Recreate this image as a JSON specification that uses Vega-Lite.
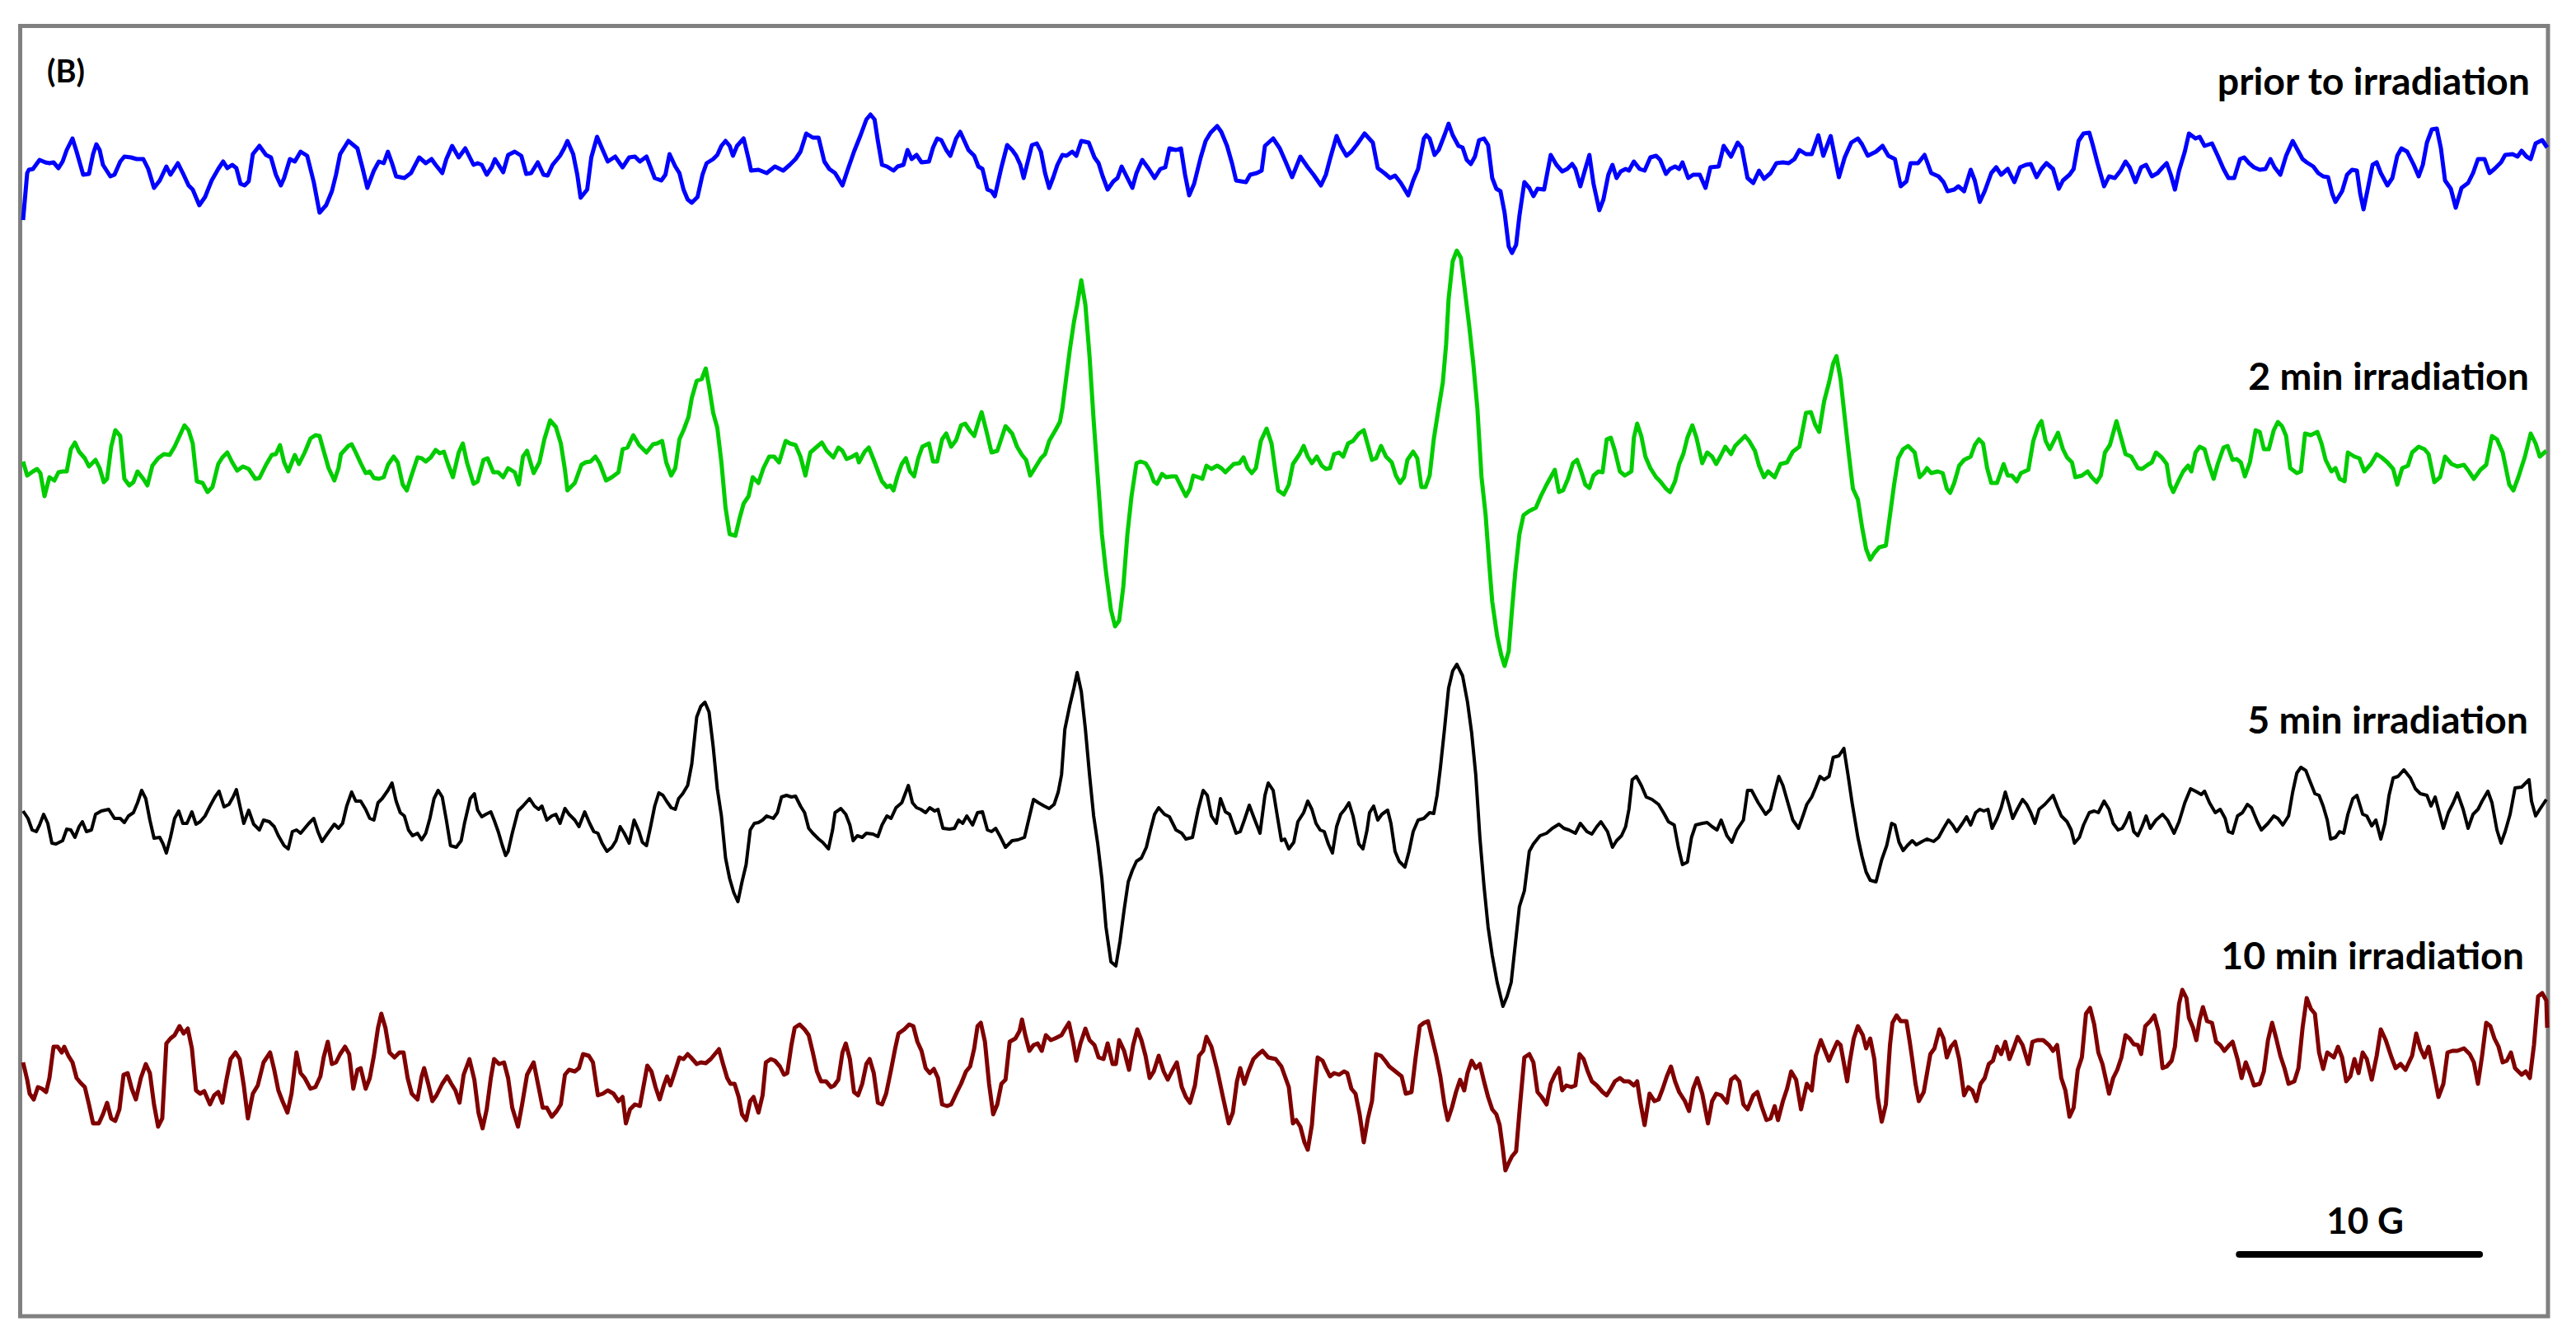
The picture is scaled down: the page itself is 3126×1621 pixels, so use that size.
{
"$schema": "https://vega.github.io/schema/vega-lite/v6.json",
"autosize": {"type": "fit", "contains": "padding"},
"width": 3126,
"height": 1621,
"padding": {"left": 24.5, "top": 31.5, "right": 32, "bottom": 24},
"background": "white",
"config": {"view": {"stroke": "#808080", "strokeWidth": 5}},
"datasets": {
"prior": [
{"x":28,"y":1333},{"x":33,"y":1390},{"x":35,"y":1394},{"x":40,"y":1395},{"x":48,"y":1406},{"x":55,"y":1403},{"x":60,"y":1402},{"x":65,"y":1403},{"x":71,"y":1396},{"x":76,"y":1404},{"x":81,"y":1418},{"x":88,"y":1432},{"x":93,"y":1416},{"x":101,"y":1388},{"x":108,"y":1389},{"x":113,"y":1413},{"x":117,"y":1425},{"x":121,"y":1418},{"x":125,"y":1400},{"x":134,"y":1386},{"x":139,"y":1388},{"x":146,"y":1404},{"x":151,"y":1410},{"x":159,"y":1409},{"x":166,"y":1407},{"x":174,"y":1407},{"x":180,"y":1395},{"x":187,"y":1372},{"x":194,"y":1381},{"x":202,"y":1398},{"x":207,"y":1388},{"x":216,"y":1402},{"x":222,"y":1390},{"x":229,"y":1375},{"x":234,"y":1370},{"x":242,"y":1351},{"x":249,"y":1361},{"x":257,"y":1381},{"x":265,"y":1395},{"x":271,"y":1404},{"x":276,"y":1396},{"x":282,"y":1400},{"x":287,"y":1396},{"x":292,"y":1377},{"x":297,"y":1375},{"x":302,"y":1380},{"x":307,"y":1413},{"x":315,"y":1423},{"x":323,"y":1412},{"x":329,"y":1409},{"x":335,"y":1388},{"x":341,"y":1375},{"x":345,"y":1384},{"x":352,"y":1407},{"x":358,"y":1404},{"x":365,"y":1416},{"x":373,"y":1411},{"x":381,"y":1379},{"x":388,"y":1342},{"x":396,"y":1351},{"x":403,"y":1368},{"x":408,"y":1388},{"x":413,"y":1413},{"x":423,"y":1429},{"x":434,"y":1420},{"x":440,"y":1397},{"x":446,"y":1372},{"x":454,"y":1393},{"x":460,"y":1404},{"x":466,"y":1402},{"x":471,"y":1416},{"x":476,"y":1402},{"x":481,"y":1386},{"x":491,"y":1384},{"x":499,"y":1390},{"x":509,"y":1409},{"x":517,"y":1402},{"x":524,"y":1407},{"x":529,"y":1400},{"x":537,"y":1390},{"x":542,"y":1407},{"x":549,"y":1423},{"x":557,"y":1409},{"x":565,"y":1420},{"x":575,"y":1400},{"x":580,"y":1402},{"x":585,"y":1400},{"x":591,"y":1388},{"x":597,"y":1397},{"x":601,"y":1407},{"x":611,"y":1391},{"x":617,"y":1412},{"x":625,"y":1416},{"x":633,"y":1411},{"x":639,"y":1389},{"x":645,"y":1390},{"x":653,"y":1403},{"x":660,"y":1388},{"x":665,"y":1387},{"x":671,"y":1400},{"x":680,"y":1411},{"x":685,"y":1420},{"x":689,"y":1429},{"x":696,"y":1413},{"x":701,"y":1388},{"x":705,"y":1360},{"x":713,"y":1370},{"x":718,"y":1409},{"x":725,"y":1434},{"x":731,"y":1420},{"x":738,"y":1404},{"x":747,"y":1410},{"x":756,"y":1397},{"x":764,"y":1409},{"x":771,"y":1410},{"x":777,"y":1404},{"x":785,"y":1410},{"x":790,"y":1397},{"x":795,"y":1384},{"x":803,"y":1381},{"x":808,"y":1388},{"x":813,"y":1413},{"x":820,"y":1398},{"x":825,"y":1390},{"x":830,"y":1370},{"x":835,"y":1358},{"x":840,"y":1354},{"x":847,"y":1361},{"x":853,"y":1388},{"x":858,"y":1402},{"x":866,"y":1407},{"x":871,"y":1412},{"x":876,"y":1423},{"x":881,"y":1429},{"x":886,"y":1423},{"x":890,"y":1411},{"x":895,"y":1423},{"x":903,"y":1432},{"x":909,"y":1407},{"x":912,"y":1393},{"x":921,"y":1394},{"x":931,"y":1390},{"x":941,"y":1398},{"x":951,"y":1393},{"x":959,"y":1400},{"x":966,"y":1407},{"x":972,"y":1416},{"x":979,"y":1438},{"x":987,"y":1433},{"x":994,"y":1433},{"x":1001,"y":1404},{"x":1007,"y":1395},{"x":1014,"y":1390},{"x":1023,"y":1375},{"x":1029,"y":1393},{"x":1037,"y":1416},{"x":1045,"y":1436},{"x":1052,"y":1455},{"x":1057,"y":1461},{"x":1062,"y":1455},{"x":1066,"y":1429},{"x":1071,"y":1400},{"x":1077,"y":1398},{"x":1085,"y":1393},{"x":1090,"y":1398},{"x":1097,"y":1400},{"x":1102,"y":1418},{"x":1107,"y":1407},{"x":1113,"y":1412},{"x":1119,"y":1403},{"x":1128,"y":1404},{"x":1133,"y":1421},{"x":1138,"y":1432},{"x":1143,"y":1430},{"x":1149,"y":1418},{"x":1154,"y":1411},{"x":1161,"y":1432},{"x":1166,"y":1440},{"x":1171,"y":1429},{"x":1176,"y":1418},{"x":1183,"y":1411},{"x":1188,"y":1398},{"x":1193,"y":1395},{"x":1199,"y":1370},{"x":1204,"y":1368},{"x":1208,"y":1362},{"x":1216,"y":1397},{"x":1223,"y":1424},{"x":1229,"y":1418},{"x":1234,"y":1411},{"x":1239,"y":1400},{"x":1243,"y":1384},{"x":1248,"y":1404},{"x":1253,"y":1424},{"x":1259,"y":1426},{"x":1264,"y":1416},{"x":1269,"y":1390},{"x":1274,"y":1372},{"x":1279,"y":1385},{"x":1284,"y":1400},{"x":1290,"y":1412},{"x":1295,"y":1411},{"x":1302,"y":1416},{"x":1307,"y":1411},{"x":1313,"y":1429},{"x":1322,"y":1427},{"x":1329,"y":1409},{"x":1334,"y":1402},{"x":1339,"y":1386},{"x":1345,"y":1370},{"x":1352,"y":1380},{"x":1357,"y":1384},{"x":1362,"y":1398},{"x":1367,"y":1388},{"x":1375,"y":1372},{"x":1380,"y":1390},{"x":1387,"y":1406},{"x":1395,"y":1395},{"x":1402,"y":1384},{"x":1409,"y":1395},{"x":1415,"y":1397},{"x":1420,"y":1420},{"x":1428,"y":1418},{"x":1434,"y":1420},{"x":1439,"y":1388},{"x":1444,"y":1363},{"x":1450,"y":1377},{"x":1458,"y":1409},{"x":1464,"y":1429},{"x":1470,"y":1439},{"x":1478,"y":1447},{"x":1483,"y":1440},{"x":1490,"y":1423},{"x":1496,"y":1402},{"x":1501,"y":1381},{"x":1507,"y":1380},{"x":1513,"y":1379},{"x":1518,"y":1388},{"x":1526,"y":1390},{"x":1532,"y":1393},{"x":1536,"y":1423},{"x":1546,"y":1432},{"x":1554,"y":1420},{"x":1561,"y":1404},{"x":1569,"y":1385},{"x":1579,"y":1410},{"x":1588,"y":1397},{"x":1595,"y":1388},{"x":1604,"y":1375},{"x":1610,"y":1388},{"x":1615,"y":1407},{"x":1623,"y":1435},{"x":1628,"y":1423},{"x":1635,"y":1411},{"x":1641,"y":1416},{"x":1648,"y":1425},{"x":1657,"y":1438},{"x":1667,"y":1427},{"x":1673,"y":1396},{"x":1681,"y":1390},{"x":1688,"y":1384},{"x":1694,"y":1387},{"x":1701,"y":1378},{"x":1710,"y":1363},{"x":1716,"y":1381},{"x":1722,"y":1395},{"x":1729,"y":1432},{"x":1732,"y":1436},{"x":1736,"y":1432},{"x":1742,"y":1412},{"x":1747,"y":1418},{"x":1754,"y":1436},{"x":1759,"y":1450},{"x":1764,"y":1436},{"x":1771,"y":1423},{"x":1776,"y":1421},{"x":1781,"y":1406},{"x":1786,"y":1401},{"x":1791,"y":1410},{"x":1796,"y":1430},{"x":1802,"y":1432},{"x":1807,"y":1424},{"x":1812,"y":1384},{"x":1817,"y":1371},{"x":1822,"y":1368},{"x":1827,"y":1342},{"x":1832,"y":1301},{"x":1836,"y":1293},{"x":1841,"y":1303},{"x":1845,"y":1338},{"x":1851,"y":1379},{"x":1857,"y":1372},{"x":1862,"y":1362},{"x":1867,"y":1371},{"x":1875,"y":1370},{"x":1883,"y":1412},{"x":1890,"y":1400},{"x":1897,"y":1392},{"x":1903,"y":1395},{"x":1909,"y":1401},{"x":1913,"y":1395},{"x":1919,"y":1374},{"x":1925,"y":1395},{"x":1930,"y":1412},{"x":1935,"y":1377},{"x":1942,"y":1345},{"x":1947,"y":1358},{"x":1953,"y":1388},{"x":1958,"y":1400},{"x":1963,"y":1384},{"x":1968,"y":1392},{"x":1974,"y":1395},{"x":1978,"y":1393},{"x":1984,"y":1404},{"x":1991,"y":1395},{"x":1997,"y":1393},{"x":2004,"y":1409},{"x":2011,"y":1411},{"x":2016,"y":1406},{"x":2023,"y":1389},{"x":2028,"y":1395},{"x":2034,"y":1398},{"x":2039,"y":1395},{"x":2043,"y":1403},{"x":2050,"y":1384},{"x":2056,"y":1388},{"x":2064,"y":1388},{"x":2071,"y":1372},{"x":2077,"y":1397},{"x":2087,"y":1398},{"x":2093,"y":1423},{"x":2102,"y":1410},{"x":2110,"y":1427},{"x":2115,"y":1421},{"x":2122,"y":1384},{"x":2129,"y":1378},{"x":2136,"y":1393},{"x":2142,"y":1383},{"x":2150,"y":1390},{"x":2157,"y":1402},{"x":2165,"y":1403},{"x":2172,"y":1402},{"x":2179,"y":1407},{"x":2185,"y":1418},{"x":2193,"y":1413},{"x":2200,"y":1413},{"x":2208,"y":1436},{"x":2214,"y":1411},{"x":2223,"y":1435},{"x":2233,"y":1385},{"x":2240,"y":1409},{"x":2248,"y":1427},{"x":2256,"y":1432},{"x":2261,"y":1425},{"x":2268,"y":1411},{"x":2278,"y":1416},{"x":2286,"y":1423},{"x":2293,"y":1411},{"x":2301,"y":1407},{"x":2308,"y":1374},{"x":2315,"y":1380},{"x":2320,"y":1402},{"x":2329,"y":1402},{"x":2337,"y":1412},{"x":2345,"y":1390},{"x":2354,"y":1386},{"x":2360,"y":1379},{"x":2365,"y":1368},{"x":2373,"y":1370},{"x":2378,"y":1374},{"x":2385,"y":1368},{"x":2393,"y":1394},{"x":2398,"y":1381},{"x":2404,"y":1355},{"x":2410,"y":1368},{"x":2418,"y":1390},{"x":2424,"y":1397},{"x":2430,"y":1388},{"x":2438,"y":1395},{"x":2446,"y":1379},{"x":2453,"y":1397},{"x":2460,"y":1400},{"x":2466,"y":1401},{"x":2473,"y":1385},{"x":2479,"y":1395},{"x":2485,"y":1402},{"x":2493,"y":1395},{"x":2500,"y":1371},{"x":2505,"y":1381},{"x":2513,"y":1388},{"x":2518,"y":1395},{"x":2524,"y":1429},{"x":2530,"y":1438},{"x":2537,"y":1439},{"x":2541,"y":1425},{"x":2547,"y":1402},{"x":2555,"y":1374},{"x":2561,"y":1386},{"x":2568,"y":1384},{"x":2575,"y":1393},{"x":2581,"y":1404},{"x":2586,"y":1397},{"x":2593,"y":1379},{"x":2600,"y":1397},{"x":2606,"y":1400},{"x":2613,"y":1386},{"x":2620,"y":1390},{"x":2626,"y":1397},{"x":2631,"y":1402},{"x":2636,"y":1388},{"x":2641,"y":1370},{"x":2646,"y":1393},{"x":2653,"y":1416},{"x":2658,"y":1438},{"x":2666,"y":1432},{"x":2671,"y":1434},{"x":2677,"y":1423},{"x":2686,"y":1426},{"x":2693,"y":1411},{"x":2700,"y":1395},{"x":2706,"y":1384},{"x":2713,"y":1384},{"x":2720,"y":1407},{"x":2725,"y":1409},{"x":2731,"y":1402},{"x":2737,"y":1397},{"x":2744,"y":1394},{"x":2751,"y":1395},{"x":2757,"y":1407},{"x":2762,"y":1397},{"x":2769,"y":1388},{"x":2776,"y":1411},{"x":2784,"y":1429},{"x":2790,"y":1418},{"x":2796,"y":1407},{"x":2801,"y":1403},{"x":2809,"y":1398},{"x":2815,"y":1390},{"x":2821,"y":1386},{"x":2827,"y":1385},{"x":2832,"y":1365},{"x":2836,"y":1355},{"x":2844,"y":1368},{"x":2850,"y":1388},{"x":2856,"y":1394},{"x":2862,"y":1393},{"x":2866,"y":1365},{"x":2870,"y":1346},{"x":2875,"y":1370},{"x":2881,"y":1400},{"x":2886,"y":1403},{"x":2891,"y":1390},{"x":2899,"y":1375},{"x":2905,"y":1384},{"x":2911,"y":1411},{"x":2916,"y":1420},{"x":2923,"y":1416},{"x":2931,"y":1400},{"x":2937,"y":1386},{"x":2942,"y":1400},{"x":2947,"y":1427},{"x":2953,"y":1443},{"x":2959,"y":1444},{"x":2964,"y":1420},{"x":2969,"y":1381},{"x":2976,"y":1371},{"x":2982,"y":1348},{"x":2989,"y":1372},{"x":2997,"y":1378},{"x":3003,"y":1390},{"x":3009,"y":1407},{"x":3017,"y":1407},{"x":3023,"y":1390},{"x":3029,"y":1395},{"x":3037,"y":1403},{"x":3042,"y":1412},{"x":3051,"y":1413},{"x":3057,"y":1410},{"x":3062,"y":1417},{"x":3068,"y":1410},{"x":3073,"y":1407},{"x":3079,"y":1426},{"x":3087,"y":1430},{"x":3093,"y":1421}
],
"m2": [
{"x":28,"y":1040},{"x":33,"y":1023},{"x":40,"y":1028},{"x":45,"y":1031},{"x":49,"y":1026},{"x":54,"y":998},{"x":60,"y":1021},{"x":66,"y":1017},{"x":71,"y":1027},{"x":76,"y":1028},{"x":81,"y":1028},{"x":86,"y":1055},{"x":91,"y":1063},{"x":96,"y":1052},{"x":103,"y":1044},{"x":108,"y":1034},{"x":116,"y":1042},{"x":121,"y":1032},{"x":126,"y":1015},{"x":130,"y":1019},{"x":135,"y":1058},{"x":140,"y":1078},{"x":146,"y":1071},{"x":151,"y":1019},{"x":157,"y":1011},{"x":162,"y":1015},{"x":167,"y":1028},{"x":174,"y":1019},{"x":179,"y":1011},{"x":185,"y":1035},{"x":192,"y":1044},{"x":199,"y":1049},{"x":206,"y":1048},{"x":212,"y":1058},{"x":218,"y":1071},{"x":224,"y":1084},{"x":229,"y":1078},{"x":234,"y":1062},{"x":239,"y":1016},{"x":246,"y":1014},{"x":252,"y":1003},{"x":258,"y":1009},{"x":265,"y":1037},{"x":270,"y":1045},{"x":276,"y":1051},{"x":282,"y":1039},{"x":288,"y":1029},{"x":295,"y":1034},{"x":302,"y":1031},{"x":310,"y":1019},{"x":315,"y":1020},{"x":323,"y":1036},{"x":330,"y":1048},{"x":335,"y":1049},{"x":340,"y":1060},{"x":345,"y":1039},{"x":350,"y":1028},{"x":358,"y":1048},{"x":363,"y":1037},{"x":370,"y":1051},{"x":377,"y":1068},{"x":383,"y":1072},{"x":388,"y":1071},{"x":393,"y":1053},{"x":399,"y":1032},{"x":406,"y":1017},{"x":411,"y":1032},{"x":414,"y":1049},{"x":423,"y":1059},{"x":427,"y":1061},{"x":432,"y":1051},{"x":438,"y":1038},{"x":444,"y":1026},{"x":449,"y":1028},{"x":454,"y":1020},{"x":460,"y":1019},{"x":466,"y":1021},{"x":471,"y":1036},{"x":478,"y":1046},{"x":483,"y":1039},{"x":489,"y":1012},{"x":494,"y":1005},{"x":499,"y":1021},{"x":507,"y":1045},{"x":512,"y":1044},{"x":517,"y":1040},{"x":523,"y":1045},{"x":529,"y":1054},{"x":534,"y":1050},{"x":539,"y":1052},{"x":544,"y":1037},{"x":550,"y":1021},{"x":557,"y":1051},{"x":562,"y":1062},{"x":567,"y":1039},{"x":575,"y":1013},{"x":580,"y":1016},{"x":587,"y":1042},{"x":592,"y":1044},{"x":599,"y":1027},{"x":605,"y":1027},{"x":611,"y":1021},{"x":617,"y":1032},{"x":625,"y":1027},{"x":630,"y":1012},{"x":635,"y":1046},{"x":640,"y":1053},{"x":648,"y":1026},{"x":655,"y":1039},{"x":661,"y":1067},{"x":668,"y":1090},{"x":675,"y":1082},{"x":681,"y":1062},{"x":686,"y":1030},{"x":689,"y":1005},{"x":698,"y":1014},{"x":706,"y":1036},{"x":711,"y":1039},{"x":717,"y":1040},{"x":723,"y":1046},{"x":728,"y":1038},{"x":736,"y":1017},{"x":743,"y":1021},{"x":751,"y":1027},{"x":756,"y":1055},{"x":762,"y":1057},{"x":769,"y":1072},{"x":776,"y":1060},{"x":785,"y":1051},{"x":793,"y":1061},{"x":798,"y":1062},{"x":804,"y":1065},{"x":809,"y":1039},{"x":815,"y":1023},{"x":820,"y":1032},{"x":825,"y":1067},{"x":830,"y":1078},{"x":836,"y":1094},{"x":840,"y":1117},{"x":846,"y":1138},{"x":852,"y":1140},{"x":857,"y":1153},{"x":861,"y":1131},{"x":866,"y":1099},{"x":871,"y":1081},{"x":876,"y":1039},{"x":881,"y":984},{"x":886,"y":952},{"x":893,"y":950},{"x":898,"y":971},{"x":903,"y":989},{"x":909,"y":998},{"x":914,"y":1021},{"x":921,"y":1014},{"x":927,"y":1032},{"x":934,"y":1046},{"x":940,"y":1046},{"x":946,"y":1039},{"x":954,"y":1065},{"x":959,"y":1062},{"x":966,"y":1060},{"x":972,"y":1046},{"x":978,"y":1023},{"x":984,"y":1051},{"x":992,"y":1058},{"x":998,"y":1063},{"x":1004,"y":1053},{"x":1012,"y":1045},{"x":1018,"y":1057},{"x":1023,"y":1053},{"x":1028,"y":1043},{"x":1035,"y":1046},{"x":1040,"y":1049},{"x":1043,"y":1039},{"x":1050,"y":1052},{"x":1055,"y":1057},{"x":1061,"y":1042},{"x":1067,"y":1026},{"x":1071,"y":1016},{"x":1077,"y":1009},{"x":1081,"y":1011},{"x":1085,"y":1005},{"x":1090,"y":1023},{"x":1095,"y":1037},{"x":1100,"y":1044},{"x":1105,"y":1028},{"x":1110,"y":1022},{"x":1115,"y":1044},{"x":1120,"y":1058},{"x":1128,"y":1062},{"x":1133,"y":1040},{"x":1138,"y":1040},{"x":1144,"y":1067},{"x":1149,"y":1074},{"x":1155,"y":1058},{"x":1161,"y":1066},{"x":1167,"y":1084},{"x":1172,"y":1086},{"x":1178,"y":1077},{"x":1183,"y":1071},{"x":1188,"y":1088},{"x":1192,"y":1100},{"x":1198,"y":1076},{"x":1204,"y":1051},{"x":1211,"y":1053},{"x":1214,"y":1062},{"x":1221,"y":1083},{"x":1229,"y":1074},{"x":1235,"y":1058},{"x":1241,"y":1048},{"x":1246,"y":1042},{"x":1251,"y":1023},{"x":1256,"y":1031},{"x":1264,"y":1044},{"x":1269,"y":1049},{"x":1274,"y":1065},{"x":1281,"y":1077},{"x":1287,"y":1088},{"x":1290,"y":1104},{"x":1294,"y":1136},{"x":1299,"y":1175},{"x":1304,"y":1209},{"x":1308,"y":1230},{"x":1313,"y":1260},{"x":1318,"y":1230},{"x":1323,"y":1168},{"x":1328,"y":1090},{"x":1333,"y":1021},{"x":1338,"y":952},{"x":1343,"y":906},{"x":1349,"y":860},{"x":1354,"y":840},{"x":1359,"y":847},{"x":1364,"y":888},{"x":1369,"y":952},{"x":1374,"y":998},{"x":1380,"y":1038},{"x":1385,"y":1040},{"x":1391,"y":1038},{"x":1396,"y":1030},{"x":1401,"y":1016},{"x":1405,"y":1013},{"x":1411,"y":1025},{"x":1416,"y":1021},{"x":1423,"y":1022},{"x":1428,"y":1022},{"x":1433,"y":1012},{"x":1440,"y":998},{"x":1445,"y":1007},{"x":1449,"y":1023},{"x":1455,"y":1021},{"x":1460,"y":1019},{"x":1465,"y":1035},{"x":1471,"y":1031},{"x":1478,"y":1035},{"x":1483,"y":1032},{"x":1488,"y":1027},{"x":1493,"y":1032},{"x":1498,"y":1037},{"x":1505,"y":1038},{"x":1510,"y":1045},{"x":1515,"y":1032},{"x":1520,"y":1026},{"x":1525,"y":1032},{"x":1531,"y":1065},{"x":1538,"y":1080},{"x":1544,"y":1062},{"x":1549,"y":1026},{"x":1552,"y":1005},{"x":1559,"y":1000},{"x":1565,"y":1012},{"x":1570,"y":1037},{"x":1578,"y":1049},{"x":1583,"y":1059},{"x":1588,"y":1046},{"x":1593,"y":1038},{"x":1599,"y":1046},{"x":1605,"y":1035},{"x":1610,"y":1031},{"x":1615,"y":1032},{"x":1620,"y":1049},{"x":1626,"y":1051},{"x":1631,"y":1046},{"x":1637,"y":1062},{"x":1643,"y":1065},{"x":1650,"y":1074},{"x":1656,"y":1078},{"x":1661,"y":1060},{"x":1666,"y":1042},{"x":1671,"y":1044},{"x":1677,"y":1059},{"x":1683,"y":1046},{"x":1690,"y":1039},{"x":1695,"y":1023},{"x":1700,"y":1014},{"x":1705,"y":1021},{"x":1709,"y":1042},{"x":1716,"y":1052},{"x":1721,"y":1044},{"x":1726,"y":1009},{"x":1731,"y":1009},{"x":1736,"y":1023},{"x":1741,"y":1067},{"x":1746,"y":1099},{"x":1752,"y":1136},{"x":1756,"y":1182},{"x":1759,"y":1237},{"x":1764,"y":1283},{"x":1769,"y":1296},{"x":1774,"y":1287},{"x":1779,"y":1246},{"x":1784,"y":1205},{"x":1789,"y":1159},{"x":1794,"y":1104},{"x":1799,"y":1021},{"x":1804,"y":975},{"x":1808,"y":920},{"x":1812,"y":870},{"x":1818,"y":828},{"x":1823,"y":805},{"x":1827,"y":792},{"x":1832,"y":810},{"x":1836,"y":860},{"x":1840,"y":906},{"x":1845,"y":952},{"x":1850,"y":975},{"x":1857,"y":980},{"x":1865,"y":984},{"x":1871,"y":998},{"x":1878,"y":1012},{"x":1883,"y":1021},{"x":1888,"y":1030},{"x":1893,"y":1003},{"x":1898,"y":1005},{"x":1904,"y":1019},{"x":1910,"y":1038},{"x":1915,"y":1042},{"x":1920,"y":1028},{"x":1925,"y":1012},{"x":1930,"y":1008},{"x":1935,"y":1023},{"x":1941,"y":1028},{"x":1946,"y":1027},{"x":1951,"y":1067},{"x":1956,"y":1069},{"x":1961,"y":1053},{"x":1967,"y":1028},{"x":1973,"y":1023},{"x":1981,"y":1028},{"x":1984,"y":1069},{"x":1988,"y":1086},{"x":1993,"y":1071},{"x":1998,"y":1046},{"x":2004,"y":1032},{"x":2011,"y":1021},{"x":2016,"y":1016},{"x":2023,"y":1007},{"x":2028,"y":1003},{"x":2034,"y":1016},{"x":2039,"y":1037},{"x":2044,"y":1049},{"x":2049,"y":1069},{"x":2055,"y":1084},{"x":2060,"y":1069},{"x":2067,"y":1038},{"x":2073,"y":1051},{"x":2079,"y":1046},{"x":2084,"y":1037},{"x":2089,"y":1046},{"x":2095,"y":1058},{"x":2102,"y":1049},{"x":2107,"y":1059},{"x":2114,"y":1066},{"x":2119,"y":1071},{"x":2124,"y":1065},{"x":2131,"y":1053},{"x":2136,"y":1035},{"x":2142,"y":1021},{"x":2147,"y":1028},{"x":2155,"y":1021},{"x":2162,"y":1037},{"x":2170,"y":1039},{"x":2177,"y":1052},{"x":2185,"y":1058},{"x":2193,"y":1099},{"x":2199,"y":1100},{"x":2204,"y":1085},{"x":2209,"y":1076},{"x":2215,"y":1113},{"x":2221,"y":1136},{"x":2226,"y":1159},{"x":2230,"y":1168},{"x":2235,"y":1140},{"x":2240,"y":1094},{"x":2245,"y":1049},{"x":2250,"y":1007},{"x":2256,"y":994},{"x":2261,"y":961},{"x":2266,"y":934},{"x":2271,"y":921},{"x":2276,"y":929},{"x":2282,"y":936},{"x":2290,"y":938},{"x":2295,"y":975},{"x":2300,"y":1012},{"x":2305,"y":1044},{"x":2311,"y":1055},{"x":2317,"y":1059},{"x":2325,"y":1051},{"x":2331,"y":1021},{"x":2336,"y":1026},{"x":2340,"y":1032},{"x":2345,"y":1026},{"x":2353,"y":1028},{"x":2359,"y":1026},{"x":2364,"y":1007},{"x":2368,"y":1002},{"x":2373,"y":1014},{"x":2379,"y":1035},{"x":2385,"y":1042},{"x":2393,"y":1046},{"x":2398,"y":1060},{"x":2403,"y":1067},{"x":2408,"y":1062},{"x":2413,"y":1032},{"x":2418,"y":1014},{"x":2425,"y":1014},{"x":2433,"y":1037},{"x":2438,"y":1023},{"x":2443,"y":1023},{"x":2449,"y":1016},{"x":2454,"y":1026},{"x":2463,"y":1030},{"x":2469,"y":1065},{"x":2475,"y":1083},{"x":2479,"y":1089},{"x":2484,"y":1065},{"x":2489,"y":1055},{"x":2495,"y":1067},{"x":2499,"y":1075},{"x":2505,"y":1055},{"x":2510,"y":1045},{"x":2516,"y":1039},{"x":2520,"y":1021},{"x":2528,"y":1023},{"x":2535,"y":1028},{"x":2540,"y":1021},{"x":2546,"y":1015},{"x":2551,"y":1023},{"x":2556,"y":1051},{"x":2562,"y":1060},{"x":2570,"y":1089},{"x":2575,"y":1071},{"x":2581,"y":1049},{"x":2588,"y":1046},{"x":2596,"y":1032},{"x":2601,"y":1031},{"x":2608,"y":1036},{"x":2613,"y":1039},{"x":2618,"y":1051},{"x":2625,"y":1045},{"x":2631,"y":1037},{"x":2635,"y":1012},{"x":2639,"y":1003},{"x":2645,"y":1016},{"x":2651,"y":1028},{"x":2657,"y":1035},{"x":2661,"y":1028},{"x":2666,"y":1051},{"x":2671,"y":1058},{"x":2677,"y":1055},{"x":2682,"y":1037},{"x":2688,"y":1019},{"x":2693,"y":1037},{"x":2700,"y":1057},{"x":2705,"y":1059},{"x":2711,"y":1042},{"x":2716,"y":1043},{"x":2721,"y":1039},{"x":2726,"y":1022},{"x":2732,"y":1039},{"x":2739,"y":1078},{"x":2744,"y":1076},{"x":2749,"y":1055},{"x":2755,"y":1055},{"x":2761,"y":1078},{"x":2766,"y":1088},{"x":2771,"y":1083},{"x":2776,"y":1071},{"x":2781,"y":1032},{"x":2789,"y":1026},{"x":2794,"y":1028},{"x":2799,"y":1074},{"x":2806,"y":1072},{"x":2814,"y":1076},{"x":2819,"y":1062},{"x":2824,"y":1042},{"x":2831,"y":1028},{"x":2836,"y":1032},{"x":2841,"y":1019},{"x":2847,"y":1016},{"x":2851,"y":1051},{"x":2859,"y":1046},{"x":2865,"y":1044},{"x":2871,"y":1028},{"x":2879,"y":1037},{"x":2886,"y":1049},{"x":2892,"y":1045},{"x":2899,"y":1039},{"x":2906,"y":1031},{"x":2911,"y":1012},{"x":2917,"y":1032},{"x":2924,"y":1035},{"x":2929,"y":1051},{"x":2937,"y":1058},{"x":2944,"y":1055},{"x":2949,"y":1049},{"x":2956,"y":1015},{"x":2963,"y":1021},{"x":2969,"y":1046},{"x":2977,"y":1037},{"x":2984,"y":1034},{"x":2992,"y":1036},{"x":2998,"y":1028},{"x":3004,"y":1019},{"x":3012,"y":1030},{"x":3019,"y":1036},{"x":3026,"y":1071},{"x":3032,"y":1067},{"x":3039,"y":1051},{"x":3047,"y":1012},{"x":3052,"y":1005},{"x":3058,"y":1021},{"x":3066,"y":1046},{"x":3073,"y":1074},{"x":3079,"y":1062},{"x":3084,"y":1046},{"x":3092,"y":1053}
],
"m5": [
{"x":28,"y":616},{"x":34,"y":607},{"x":39,"y":593},{"x":44,"y":591},{"x":48,"y":599},{"x":53,"y":612},{"x":58,"y":601},{"x":63,"y":577},{"x":68,"y":576},{"x":76,"y":580},{"x":81,"y":594},{"x":86,"y":593},{"x":91,"y":584},{"x":96,"y":597},{"x":100,"y":603},{"x":105,"y":591},{"x":111,"y":593},{"x":116,"y":612},{"x":123,"y":616},{"x":132,"y":618},{"x":139,"y":607},{"x":146,"y":607},{"x":151,"y":602},{"x":156,"y":610},{"x":162,"y":614},{"x":167,"y":626},{"x":172,"y":641},{"x":177,"y":631},{"x":182,"y":605},{"x":187,"y":583},{"x":194,"y":584},{"x":198,"y":576},{"x":202,"y":565},{"x":207,"y":584},{"x":212,"y":607},{"x":217,"y":616},{"x":222,"y":601},{"x":227,"y":601},{"x":233,"y":615},{"x":238,"y":600},{"x":243,"y":603},{"x":249,"y":610},{"x":255,"y":622},{"x":261,"y":633},{"x":266,"y":640},{"x":272,"y":621},{"x":278,"y":624},{"x":283,"y":633},{"x":287,"y":642},{"x":292,"y":619},{"x":296,"y":601},{"x":302,"y":617},{"x":308,"y":600},{"x":315,"y":593},{"x":320,"y":605},{"x":327,"y":603},{"x":333,"y":597},{"x":338,"y":586},{"x":345,"y":574},{"x":350,"y":570},{"x":355,"y":591},{"x":360,"y":593},{"x":365,"y":589},{"x":370,"y":595},{"x":375,"y":601},{"x":381,"y":607},{"x":386,"y":591},{"x":391,"y":579},{"x":398,"y":589},{"x":406,"y":600},{"x":411,"y":595},{"x":416,"y":601},{"x":421,"y":622},{"x":427,"y":639},{"x":432,"y":628},{"x":438,"y":628},{"x":444,"y":618},{"x":449,"y":607},{"x":454,"y":605},{"x":459,"y":626},{"x":464,"y":631},{"x":471,"y":641},{"x":476,"y":650},{"x":481,"y":628},{"x":486,"y":614},{"x":491,"y":610},{"x":496,"y":593},{"x":501,"y":586},{"x":507,"y":589},{"x":512,"y":581},{"x":517,"y":589},{"x":522,"y":607},{"x":527,"y":631},{"x":532,"y":641},{"x":537,"y":633},{"x":542,"y":605},{"x":547,"y":574},{"x":554,"y":572},{"x":560,"y":580},{"x":564,"y":601},{"x":571,"y":631},{"x":576,"y":637},{"x":580,"y":617},{"x":585,"y":609},{"x":590,"y":612},{"x":596,"y":615},{"x":600,"y":605},{"x":605,"y":591},{"x":610,"y":574},{"x":614,"y":562},{"x":617,"y":567},{"x":622,"y":589},{"x":629,"y":616},{"x":635,"y":622},{"x":643,"y":631},{"x":649,"y":622},{"x":654,"y":618},{"x":658,"y":622},{"x":664,"y":605},{"x":670,"y":610},{"x":675,"y":612},{"x":680,"y":601},{"x":686,"y":619},{"x":691,"y":612},{"x":698,"y":605},{"x":703,"y":597},{"x":710,"y":615},{"x":716,"y":601},{"x":721,"y":591},{"x":726,"y":589},{"x":731,"y":577},{"x":737,"y":567},{"x":743,"y":572},{"x":748,"y":580},{"x":753,"y":597},{"x":758,"y":589},{"x":764,"y":577},{"x":770,"y":605},{"x":776,"y":591},{"x":780,"y":578},{"x":785,"y":574},{"x":790,"y":597},{"x":795,"y":622},{"x":800,"y":638},{"x":805,"y":635},{"x":810,"y":627},{"x":815,"y":620},{"x":820,"y":618},{"x":824,"y":631},{"x":829,"y":637},{"x":835,"y":647},{"x":840,"y":673},{"x":846,"y":730},{"x":851,"y":743},{"x":856,"y":748},{"x":861,"y":736},{"x":866,"y":694},{"x":871,"y":643},{"x":876,"y":610},{"x":881,"y":559},{"x":886,"y":534},{"x":891,"y":517},{"x":896,"y":506},{"x":901,"y":530},{"x":906,"y":551},{"x":911,"y":593},{"x":916,"y":601},{"x":921,"y":602},{"x":926,"y":605},{"x":931,"y":610},{"x":939,"y":607},{"x":944,"y":614},{"x":949,"y":633},{"x":955,"y":635},{"x":961,"y":633},{"x":966,"y":634},{"x":972,"y":622},{"x":977,"y":614},{"x":982,"y":595},{"x":987,"y":589},{"x":994,"y":582},{"x":999,"y":578},{"x":1006,"y":570},{"x":1011,"y":593},{"x":1014,"y":614},{"x":1021,"y":619},{"x":1027,"y":612},{"x":1032,"y":599},{"x":1036,"y":580},{"x":1041,"y":586},{"x":1047,"y":584},{"x":1052,"y":589},{"x":1060,"y":588},{"x":1066,"y":585},{"x":1071,"y":599},{"x":1077,"y":610},{"x":1082,"y":607},{"x":1088,"y":620},{"x":1095,"y":626},{"x":1103,"y":647},{"x":1108,"y":626},{"x":1113,"y":620},{"x":1118,"y":618},{"x":1124,"y":614},{"x":1129,"y":620},{"x":1135,"y":616},{"x":1139,"y":618},{"x":1145,"y":595},{"x":1153,"y":594},{"x":1159,"y":595},{"x":1164,"y":605},{"x":1169,"y":601},{"x":1174,"y":610},{"x":1181,"y":599},{"x":1187,"y":614},{"x":1193,"y":615},{"x":1199,"y":593},{"x":1204,"y":591},{"x":1209,"y":595},{"x":1214,"y":586},{"x":1221,"y":572},{"x":1229,"y":580},{"x":1236,"y":581},{"x":1244,"y":584},{"x":1249,"y":605},{"x":1255,"y":630},{"x":1261,"y":626},{"x":1268,"y":622},{"x":1274,"y":619},{"x":1280,"y":624},{"x":1285,"y":639},{"x":1289,"y":660},{"x":1293,"y":715},{"x":1299,"y":744},{"x":1304,"y":765},{"x":1308,"y":784},{"x":1313,"y":761},{"x":1318,"y":715},{"x":1323,"y":660},{"x":1328,"y":610},{"x":1333,"y":576},{"x":1338,"y":534},{"x":1343,"y":475},{"x":1349,"y":433},{"x":1355,"y":428},{"x":1360,"y":458},{"x":1365,"y":496},{"x":1370,"y":530},{"x":1375,"y":544},{"x":1380,"y":555},{"x":1386,"y":559},{"x":1392,"y":572},{"x":1397,"y":593},{"x":1402,"y":612},{"x":1407,"y":620},{"x":1414,"y":612},{"x":1420,"y":609},{"x":1428,"y":593},{"x":1435,"y":589},{"x":1440,"y":582},{"x":1448,"y":584},{"x":1455,"y":618},{"x":1461,"y":641},{"x":1466,"y":635},{"x":1471,"y":610},{"x":1477,"y":601},{"x":1482,"y":631},{"x":1488,"y":615},{"x":1493,"y":612},{"x":1501,"y":589},{"x":1506,"y":591},{"x":1511,"y":605},{"x":1517,"y":623},{"x":1523,"y":607},{"x":1530,"y":589},{"x":1536,"y":635},{"x":1540,"y":650},{"x":1546,"y":641},{"x":1551,"y":610},{"x":1556,"y":580},{"x":1560,"y":582},{"x":1565,"y":570},{"x":1571,"y":578},{"x":1576,"y":603},{"x":1583,"y":614},{"x":1588,"y":628},{"x":1593,"y":618},{"x":1598,"y":601},{"x":1603,"y":593},{"x":1608,"y":591},{"x":1613,"y":576},{"x":1618,"y":565},{"x":1623,"y":597},{"x":1628,"y":612},{"x":1633,"y":618},{"x":1638,"y":626},{"x":1643,"y":610},{"x":1650,"y":576},{"x":1655,"y":570},{"x":1660,"y":593},{"x":1663,"y":614},{"x":1668,"y":622},{"x":1673,"y":605},{"x":1678,"y":612},{"x":1685,"y":617},{"x":1689,"y":601},{"x":1694,"y":567},{"x":1699,"y":555},{"x":1706,"y":548},{"x":1711,"y":567},{"x":1716,"y":591},{"x":1722,"y":605},{"x":1729,"y":607},{"x":1736,"y":614},{"x":1741,"y":613},{"x":1745,"y":635},{"x":1749,"y":668},{"x":1754,"y":715},{"x":1759,"y":765},{"x":1764,"y":786},{"x":1769,"y":794},{"x":1776,"y":780},{"x":1782,"y":748},{"x":1787,"y":711},{"x":1792,"y":660},{"x":1797,"y":584},{"x":1802,"y":525},{"x":1807,"y":475},{"x":1812,"y":441},{"x":1818,"y":408},{"x":1825,"y":379},{"x":1830,"y":391},{"x":1835,"y":408},{"x":1840,"y":454},{"x":1845,"y":500},{"x":1851,"y":519},{"x":1857,"y":567},{"x":1862,"y":576},{"x":1870,"y":586},{"x":1878,"y":589},{"x":1885,"y":595},{"x":1893,"y":600},{"x":1899,"y":595},{"x":1905,"y":593},{"x":1913,"y":589},{"x":1919,"y":601},{"x":1927,"y":591},{"x":1933,"y":588},{"x":1939,"y":597},{"x":1944,"y":603},{"x":1952,"y":591},{"x":1958,"y":572},{"x":1963,"y":580},{"x":1969,"y":586},{"x":1974,"y":597},{"x":1978,"y":618},{"x":1982,"y":654},{"x":1987,"y":658},{"x":1993,"y":647},{"x":1999,"y":633},{"x":2006,"y":630},{"x":2014,"y":624},{"x":2020,"y":614},{"x":2026,"y":603},{"x":2033,"y":599},{"x":2038,"y":572},{"x":2043,"y":551},{"x":2049,"y":554},{"x":2054,"y":584},{"x":2059,"y":599},{"x":2067,"y":601},{"x":2073,"y":602},{"x":2079,"y":597},{"x":2085,"y":593},{"x":2090,"y":605},{"x":2097,"y":586},{"x":2103,"y":578},{"x":2109,"y":593},{"x":2117,"y":605},{"x":2122,"y":641},{"x":2127,"y":641},{"x":2135,"y":626},{"x":2144,"y":612},{"x":2150,"y":618},{"x":2155,"y":639},{"x":2160,"y":658},{"x":2165,"y":647},{"x":2171,"y":626},{"x":2177,"y":605},{"x":2184,"y":595},{"x":2190,"y":612},{"x":2194,"y":624},{"x":2200,"y":633},{"x":2205,"y":645},{"x":2210,"y":658},{"x":2215,"y":654},{"x":2221,"y":658},{"x":2226,"y":681},{"x":2233,"y":683},{"x":2239,"y":692},{"x":2244,"y":660},{"x":2249,"y":626},{"x":2256,"y":584},{"x":2261,"y":561},{"x":2266,"y":542},{"x":2271,"y":532},{"x":2278,"y":530},{"x":2285,"y":557},{"x":2291,"y":574},{"x":2297,"y":601},{"x":2301,"y":599},{"x":2306,"y":578},{"x":2311,"y":568},{"x":2316,"y":574},{"x":2322,"y":580},{"x":2327,"y":575},{"x":2334,"y":579},{"x":2340,"y":582},{"x":2348,"y":579},{"x":2354,"y":584},{"x":2360,"y":595},{"x":2366,"y":605},{"x":2371,"y":599},{"x":2376,"y":591},{"x":2383,"y":601},{"x":2388,"y":609},{"x":2393,"y":599},{"x":2399,"y":614},{"x":2404,"y":618},{"x":2409,"y":616},{"x":2414,"y":618},{"x":2419,"y":595},{"x":2425,"y":607},{"x":2430,"y":620},{"x":2435,"y":639},{"x":2440,"y":622},{"x":2444,"y":607},{"x":2450,"y":619},{"x":2456,"y":630},{"x":2461,"y":624},{"x":2466,"y":614},{"x":2471,"y":601},{"x":2476,"y":618},{"x":2483,"y":624},{"x":2493,"y":635},{"x":2498,"y":622},{"x":2503,"y":610},{"x":2510,"y":603},{"x":2515,"y":593},{"x":2519,"y":577},{"x":2525,"y":584},{"x":2530,"y":599},{"x":2537,"y":614},{"x":2543,"y":616},{"x":2548,"y":614},{"x":2555,"y":628},{"x":2561,"y":618},{"x":2566,"y":601},{"x":2572,"y":593},{"x":2577,"y":595},{"x":2581,"y":602},{"x":2586,"y":614},{"x":2591,"y":591},{"x":2596,"y":586},{"x":2601,"y":597},{"x":2606,"y":610},{"x":2611,"y":595},{"x":2618,"y":605},{"x":2626,"y":612},{"x":2632,"y":605},{"x":2640,"y":589},{"x":2646,"y":603},{"x":2653,"y":626},{"x":2660,"y":643},{"x":2666,"y":640},{"x":2673,"y":636},{"x":2677,"y":640},{"x":2683,"y":626},{"x":2690,"y":614},{"x":2696,"y":618},{"x":2702,"y":607},{"x":2706,"y":591},{"x":2711,"y":589},{"x":2717,"y":610},{"x":2723,"y":614},{"x":2729,"y":624},{"x":2734,"y":620},{"x":2741,"y":603},{"x":2746,"y":593},{"x":2754,"y":601},{"x":2761,"y":610},{"x":2766,"y":607},{"x":2772,"y":599},{"x":2779,"y":610},{"x":2784,"y":639},{"x":2789,"y":662},{"x":2794,"y":669},{"x":2800,"y":665},{"x":2805,"y":652},{"x":2811,"y":637},{"x":2816,"y":635},{"x":2821,"y":622},{"x":2826,"y":605},{"x":2830,"y":582},{"x":2836,"y":584},{"x":2841,"y":591},{"x":2846,"y":589},{"x":2851,"y":612},{"x":2857,"y":631},{"x":2862,"y":635},{"x":2869,"y":612},{"x":2874,"y":610},{"x":2880,"y":598},{"x":2885,"y":605},{"x":2891,"y":582},{"x":2896,"y":601},{"x":2901,"y":635},{"x":2906,"y":656},{"x":2912,"y":658},{"x":2919,"y":666},{"x":2927,"y":656},{"x":2933,"y":643},{"x":2939,"y":637},{"x":2947,"y":635},{"x":2952,"y":622},{"x":2957,"y":633},{"x":2962,"y":614},{"x":2967,"y":595},{"x":2973,"y":614},{"x":2979,"y":626},{"x":2984,"y":638},{"x":2991,"y":618},{"x":2997,"y":595},{"x":3003,"y":612},{"x":3009,"y":618},{"x":3014,"y":628},{"x":3021,"y":640},{"x":3026,"y":626},{"x":3032,"y":593},{"x":3037,"y":577},{"x":3042,"y":591},{"x":3048,"y":612},{"x":3054,"y":644},{"x":3062,"y":645},{"x":3071,"y":654},{"x":3074,"y":628},{"x":3079,"y":610},{"x":3084,"y":618},{"x":3092,"y":630}
],
"m10": [
{"x":28,"y":311},{"x":33,"y":290},{"x":36,"y":273},{"x":41,"y":266},{"x":46,"y":281},{"x":51,"y":279},{"x":56,"y":275},{"x":60,"y":292},{"x":65,"y":330},{"x":70,"y":330},{"x":75,"y":323},{"x":78,"y":330},{"x":83,"y":319},{"x":88,"y":311},{"x":93,"y":292},{"x":98,"y":286},{"x":103,"y":281},{"x":108,"y":260},{"x":113,"y":237},{"x":120,"y":237},{"x":125,"y":248},{"x":130,"y":262},{"x":135,"y":243},{"x":140,"y":240},{"x":145,"y":254},{"x":150,"y":296},{"x":155,"y":298},{"x":160,"y":279},{"x":165,"y":266},{"x":171,"y":292},{"x":177,"y":309},{"x":182,"y":298},{"x":187,"y":260},{"x":192,"y":233},{"x":197,"y":243},{"x":202,"y":334},{"x":207,"y":340},{"x":212,"y":344},{"x":218,"y":355},{"x":223,"y":346},{"x":228,"y":352},{"x":233,"y":328},{"x":238,"y":277},{"x":243,"y":273},{"x":248,"y":276},{"x":255,"y":260},{"x":260,"y":271},{"x":265,"y":275},{"x":270,"y":262},{"x":275,"y":290},{"x":280,"y":315},{"x":286,"y":323},{"x":291,"y":315},{"x":296,"y":283},{"x":301,"y":243},{"x":307,"y":273},{"x":313,"y":283},{"x":320,"y":311},{"x":328,"y":323},{"x":333,"y":302},{"x":338,"y":277},{"x":343,"y":264},{"x":349,"y":250},{"x":354,"y":273},{"x":360,"y":323},{"x":365,"y":298},{"x":370,"y":292},{"x":377,"y":279},{"x":383,"y":281},{"x":389,"y":294},{"x":393,"y":317},{"x":398,"y":336},{"x":403,"y":309},{"x":408,"y":311},{"x":413,"y":321},{"x":419,"y":330},{"x":424,"y":321},{"x":429,"y":279},{"x":434,"y":302},{"x":438,"y":304},{"x":444,"y":279},{"x":449,"y":292},{"x":454,"y":319},{"x":459,"y":353},{"x":463,"y":370},{"x":468,"y":353},{"x":473,"y":323},{"x":479,"y":317},{"x":485,"y":323},{"x":490,"y":323},{"x":495,"y":292},{"x":500,"y":273},{"x":507,"y":266},{"x":512,"y":294},{"x":515,"y":304},{"x":520,"y":285},{"x":525,"y":264},{"x":530,"y":271},{"x":537,"y":285},{"x":543,"y":294},{"x":548,"y":285},{"x":553,"y":277},{"x":558,"y":262},{"x":563,"y":296},{"x":570,"y":315},{"x":576,"y":290},{"x":581,"y":250},{"x":586,"y":231},{"x":591,"y":254},{"x":596,"y":292},{"x":600,"y":315},{"x":606,"y":309},{"x":612,"y":311},{"x":617,"y":292},{"x":622,"y":256},{"x":629,"y":233},{"x":634,"y":260},{"x":640,"y":296},{"x":648,"y":311},{"x":654,"y":281},{"x":659,"y":256},{"x":664,"y":256},{"x":670,"y":245},{"x":676,"y":252},{"x":681,"y":260},{"x":686,"y":296},{"x":691,"y":302},{"x":698,"y":300},{"x":703,"y":304},{"x":708,"y":321},{"x":715,"y":319},{"x":720,"y":311},{"x":726,"y":271},{"x":732,"y":273},{"x":738,"y":277},{"x":745,"y":273},{"x":751,"y":264},{"x":756,"y":269},{"x":760,"y":237},{"x":765,"y":254},{"x":771,"y":260},{"x":777,"y":258},{"x":786,"y":307},{"x":791,"y":300},{"x":796,"y":281},{"x":801,"y":266},{"x":806,"y":283},{"x":810,"y":294},{"x":814,"y":283},{"x":819,"y":298},{"x":825,"y":317},{"x":830,"y":315},{"x":835,"y":321},{"x":839,"y":317},{"x":846,"y":309},{"x":851,"y":311},{"x":857,"y":310},{"x":863,"y":315},{"x":868,"y":321},{"x":873,"y":327},{"x":878,"y":309},{"x":883,"y":292},{"x":887,"y":285},{"x":892,"y":285},{"x":897,"y":269},{"x":901,"y":248},{"x":906,"y":241},{"x":911,"y":264},{"x":915,"y":269},{"x":921,"y":250},{"x":926,"y":271},{"x":930,"y":311},{"x":936,"y":315},{"x":941,"y":313},{"x":947,"y":306},{"x":952,"y":296},{"x":956,"y":298},{"x":961,"y":332},{"x":965,"y":353},{"x":971,"y":357},{"x":977,"y":351},{"x":982,"y":344},{"x":987,"y":323},{"x":992,"y":300},{"x":997,"y":288},{"x":1003,"y":288},{"x":1009,"y":281},{"x":1013,"y":283},{"x":1018,"y":290},{"x":1023,"y":323},{"x":1027,"y":334},{"x":1032,"y":315},{"x":1037,"y":275},{"x":1042,"y":271},{"x":1047,"y":285},{"x":1052,"y":309},{"x":1056,"y":315},{"x":1061,"y":298},{"x":1066,"y":262},{"x":1071,"y":260},{"x":1076,"y":273},{"x":1082,"y":302},{"x":1087,"y":328},{"x":1091,"y":346},{"x":1098,"y":351},{"x":1104,"y":357},{"x":1109,"y":355},{"x":1114,"y":336},{"x":1119,"y":325},{"x":1124,"y":304},{"x":1129,"y":298},{"x":1134,"y":303},{"x":1139,"y":292},{"x":1144,"y":260},{"x":1150,"y":258},{"x":1155,"y":260},{"x":1162,"y":275},{"x":1167,"y":285},{"x":1173,"y":300},{"x":1178,"y":306},{"x":1183,"y":328},{"x":1187,"y":355},{"x":1191,"y":359},{"x":1196,"y":336},{"x":1201,"y":285},{"x":1206,"y":248},{"x":1211,"y":260},{"x":1216,"y":285},{"x":1221,"y":290},{"x":1226,"y":336},{"x":1233,"y":340},{"x":1238,"y":349},{"x":1241,"y":363},{"x":1245,"y":344},{"x":1250,"y":325},{"x":1255,"y":332},{"x":1260,"y":334},{"x":1265,"y":325},{"x":1270,"y":344},{"x":1276,"y":338},{"x":1281,"y":340},{"x":1289,"y":344},{"x":1293,"y":351},{"x":1298,"y":359},{"x":1303,"y":336},{"x":1307,"y":313},{"x":1312,"y":334},{"x":1318,"y":352},{"x":1323,"y":338},{"x":1329,"y":332},{"x":1334,"y":317},{"x":1340,"y":315},{"x":1345,"y":334},{"x":1351,"y":309},{"x":1355,"y":309},{"x":1359,"y":338},{"x":1365,"y":325},{"x":1371,"y":302},{"x":1376,"y":332},{"x":1381,"y":351},{"x":1386,"y":338},{"x":1391,"y":319},{"x":1396,"y":292},{"x":1401,"y":300},{"x":1407,"y":319},{"x":1413,"y":300},{"x":1418,"y":290},{"x":1424,"y":302},{"x":1429,"y":311},{"x":1435,"y":281},{"x":1440,"y":269},{"x":1445,"y":262},{"x":1451,"y":283},{"x":1456,"y":319},{"x":1461,"y":325},{"x":1465,"y":342},{"x":1471,"y":330},{"x":1478,"y":302},{"x":1485,"y":269},{"x":1492,"y":237},{"x":1497,"y":250},{"x":1502,"y":288},{"x":1506,"y":304},{"x":1511,"y":285},{"x":1516,"y":300},{"x":1522,"y":315},{"x":1528,"y":321},{"x":1533,"y":325},{"x":1540,"y":317},{"x":1549,"y":315},{"x":1556,"y":306},{"x":1565,"y":281},{"x":1570,"y":237},{"x":1574,"y":241},{"x":1579,"y":233},{"x":1584,"y":214},{"x":1588,"y":205},{"x":1593,"y":235},{"x":1596,"y":273},{"x":1600,"y":317},{"x":1606,"y":313},{"x":1610,"y":304},{"x":1615,"y":294},{"x":1620,"y":298},{"x":1626,"y":296},{"x":1632,"y":300},{"x":1636,"y":298},{"x":1641,"y":279},{"x":1646,"y":273},{"x":1651,"y":248},{"x":1656,"y":214},{"x":1661,"y":243},{"x":1666,"y":264},{"x":1671,"y":321},{"x":1677,"y":319},{"x":1682,"y":313},{"x":1687,"y":306},{"x":1692,"y":302},{"x":1697,"y":298},{"x":1702,"y":294},{"x":1707,"y":273},{"x":1714,"y":275},{"x":1719,"y":317},{"x":1724,"y":355},{"x":1729,"y":359},{"x":1734,"y":361},{"x":1739,"y":340},{"x":1744,"y":319},{"x":1749,"y":294},{"x":1754,"y":260},{"x":1758,"y":241},{"x":1763,"y":256},{"x":1768,"y":275},{"x":1773,"y":290},{"x":1778,"y":277},{"x":1782,"y":298},{"x":1787,"y":313},{"x":1792,"y":304},{"x":1797,"y":309},{"x":1802,"y":288},{"x":1807,"y":269},{"x":1812,"y":254},{"x":1817,"y":248},{"x":1821,"y":235},{"x":1825,"y":205},{"x":1828,"y":180},{"x":1832,"y":189},{"x":1836,"y":197},{"x":1841,"y":203},{"x":1846,"y":262},{"x":1851,"y":317},{"x":1857,"y":321},{"x":1862,"y":311},{"x":1867,"y":275},{"x":1872,"y":269},{"x":1878,"y":260},{"x":1883,"y":285},{"x":1888,"y":296},{"x":1893,"y":304},{"x":1897,"y":277},{"x":1902,"y":283},{"x":1908,"y":281},{"x":1913,"y":283},{"x":1918,"y":321},{"x":1923,"y":315},{"x":1928,"y":300},{"x":1933,"y":288},{"x":1939,"y":283},{"x":1946,"y":275},{"x":1951,"y":271},{"x":1956,"y":279},{"x":1961,"y":288},{"x":1967,"y":292},{"x":1972,"y":288},{"x":1978,"y":288},{"x":1984,"y":283},{"x":1988,"y":288},{"x":1992,"y":262},{"x":1997,"y":235},{"x":2003,"y":273},{"x":2009,"y":264},{"x":2014,"y":266},{"x":2019,"y":279},{"x":2024,"y":294},{"x":2029,"y":306},{"x":2034,"y":288},{"x":2039,"y":275},{"x":2046,"y":264},{"x":2051,"y":252},{"x":2056,"y":279},{"x":2061,"y":292},{"x":2067,"y":273},{"x":2074,"y":237},{"x":2079,"y":264},{"x":2084,"y":273},{"x":2090,"y":271},{"x":2097,"y":262},{"x":2102,"y":290},{"x":2107,"y":294},{"x":2112,"y":288},{"x":2117,"y":260},{"x":2122,"y":254},{"x":2129,"y":271},{"x":2134,"y":275},{"x":2139,"y":258},{"x":2145,"y":241},{"x":2150,"y":243},{"x":2155,"y":258},{"x":2159,"y":241},{"x":2165,"y":264},{"x":2170,"y":279},{"x":2175,"y":300},{"x":2181,"y":290},{"x":2187,"y":254},{"x":2194,"y":285},{"x":2200,"y":277},{"x":2205,"y":319},{"x":2211,"y":338},{"x":2215,"y":328},{"x":2221,"y":313},{"x":2226,"y":325},{"x":2231,"y":336},{"x":2235,"y":332},{"x":2243,"y":288},{"x":2246,"y":311},{"x":2251,"y":340},{"x":2256,"y":355},{"x":2262,"y":344},{"x":2266,"y":328},{"x":2271,"y":340},{"x":2276,"y":315},{"x":2280,"y":269},{"x":2285,"y":239},{"x":2290,"y":260},{"x":2295,"y":332},{"x":2298,"y":359},{"x":2303,"y":368},{"x":2308,"y":361},{"x":2315,"y":361},{"x":2319,"y":336},{"x":2322,"y":315},{"x":2326,"y":285},{"x":2330,"y":264},{"x":2336,"y":275},{"x":2344,"y":321},{"x":2349,"y":328},{"x":2355,"y":351},{"x":2360,"y":340},{"x":2364,"y":317},{"x":2369,"y":330},{"x":2374,"y":336},{"x":2379,"y":315},{"x":2385,"y":271},{"x":2390,"y":281},{"x":2395,"y":277},{"x":2400,"y":264},{"x":2405,"y":285},{"x":2410,"y":292},{"x":2415,"y":309},{"x":2420,"y":313},{"x":2425,"y":330},{"x":2430,"y":321},{"x":2435,"y":336},{"x":2440,"y":315},{"x":2445,"y":328},{"x":2450,"y":342},{"x":2456,"y":332},{"x":2463,"y":309},{"x":2468,"y":336},{"x":2474,"y":338},{"x":2481,"y":338},{"x":2488,"y":332},{"x":2493,"y":325},{"x":2498,"y":332},{"x":2503,"y":292},{"x":2508,"y":277},{"x":2513,"y":245},{"x":2518,"y":256},{"x":2523,"y":302},{"x":2528,"y":317},{"x":2533,"y":370},{"x":2538,"y":377},{"x":2543,"y":357},{"x":2548,"y":323},{"x":2553,"y":309},{"x":2561,"y":273},{"x":2566,"y":292},{"x":2571,"y":302},{"x":2576,"y":317},{"x":2581,"y":344},{"x":2586,"y":340},{"x":2591,"y":333},{"x":2596,"y":332},{"x":2600,"y":321},{"x":2605,"y":355},{"x":2611,"y":361},{"x":2616,"y":368},{"x":2621,"y":349},{"x":2626,"y":304},{"x":2631,"y":306},{"x":2637,"y":313},{"x":2641,"y":330},{"x":2646,"y":382},{"x":2650,"y":399},{"x":2655,"y":389},{"x":2658,"y":365},{"x":2663,"y":353},{"x":2667,"y":338},{"x":2671,"y":363},{"x":2675,"y":378},{"x":2680,"y":361},{"x":2686,"y":359},{"x":2691,"y":336},{"x":2696,"y":332},{"x":2701,"y":325},{"x":2707,"y":332},{"x":2711,"y":336},{"x":2717,"y":315},{"x":2722,"y":292},{"x":2727,"y":311},{"x":2732,"y":298},{"x":2737,"y":283},{"x":2744,"y":285},{"x":2749,"y":300},{"x":2754,"y":338},{"x":2759,"y":359},{"x":2764,"y":340},{"x":2769,"y":319},{"x":2774,"y":304},{"x":2779,"y":285},{"x":2786,"y":288},{"x":2791,"y":304},{"x":2796,"y":353},{"x":2801,"y":389},{"x":2806,"y":376},{"x":2811,"y":370},{"x":2816,"y":323},{"x":2821,"y":303},{"x":2826,"y":323},{"x":2834,"y":317},{"x":2839,"y":330},{"x":2844,"y":317},{"x":2849,"y":288},{"x":2854,"y":294},{"x":2859,"y":315},{"x":2864,"y":298},{"x":2869,"y":323},{"x":2874,"y":315},{"x":2880,"y":290},{"x":2886,"y":319},{"x":2891,"y":351},{"x":2897,"y":338},{"x":2904,"y":317},{"x":2909,"y":304},{"x":2915,"y":309},{"x":2921,"y":302},{"x":2929,"y":319},{"x":2934,"y":346},{"x":2939,"y":328},{"x":2944,"y":317},{"x":2949,"y":330},{"x":2954,"y":306},{"x":2961,"y":269},{"x":2967,"y":285},{"x":2972,"y":323},{"x":2978,"y":325},{"x":2984,"y":325},{"x":2992,"y":328},{"x":2999,"y":321},{"x":3004,"y":311},{"x":3009,"y":285},{"x":3014,"y":319},{"x":3019,"y":359},{"x":3024,"y":355},{"x":3029,"y":340},{"x":3034,"y":330},{"x":3039,"y":311},{"x":3044,"y":313},{"x":3049,"y":323},{"x":3054,"y":304},{"x":3062,"y":296},{"x":3067,"y":300},{"x":3072,"y":292},{"x":3077,"y":332},{"x":3082,"y":391},{"x":3087,"y":395},{"x":3092,"y":386},{"x":3093,"y":353}
],
"labels": [
{"x":3072,"y":1485,"t":"prior to irradiation"},
{"x":3071,"y":1127,"t":"2 min irradiation"},
{"x":3070,"y":710,"t":"5 min irradiation"},
{"x":3065,"y":424,"t":"10 min irradiation"}
],
"panel": [{"x":57,"y":1500,"t":"(B)"}],
"scale": [{"x":2719,"x2":3011,"y":78,"tx":2872,"ty":103,"t":"10 G"}]
},
"encoding": {
"x": {"field": "x", "type": "quantitative", "scale": {"domain": [24.5, 3094], "nice": false, "zero": false}, "axis": null},
"y": {"field": "y", "type": "quantitative", "scale": {"domain": [3, 1568.5], "nice": false, "zero": false}, "axis": null}
},
"layer": [
{"data": {"name": "prior"}, "mark": {"type": "line", "color": "#0000FF", "strokeWidth": 5, "strokeJoin": "round"}},
{"data": {"name": "m2"}, "mark": {"type": "line", "color": "#00CC00", "strokeWidth": 5, "strokeJoin": "round"}},
{"data": {"name": "m5"}, "mark": {"type": "line", "color": "#000000", "strokeWidth": 4, "strokeJoin": "round"}},
{"data": {"name": "m10"}, "mark": {"type": "line", "color": "#800000", "strokeWidth": 5, "strokeJoin": "round"}},
{"data": {"name": "labels"}, "mark": {"type": "text", "align": "right", "baseline": "alphabetic", "font": "Lato", "fontWeight": "bold", "fontSize": 46.5, "color": "#000000"}, "encoding": {"text": {"field": "t"}}},
{"data": {"name": "panel"}, "mark": {"type": "text", "align": "left", "baseline": "alphabetic", "font": "Lato", "fontWeight": "bold", "fontSize": 38, "color": "#000000"}, "encoding": {"text": {"field": "t"}}},
{"data": {"name": "scale"}, "mark": {"type": "rule", "color": "#000000", "strokeWidth": 8, "strokeCap": "round"}, "encoding": {"x2": {"field": "x2"}}},
{"data": {"name": "scale"}, "mark": {"type": "text", "align": "center", "baseline": "alphabetic", "font": "Lato", "fontWeight": "bold", "fontSize": 44, "color": "#000000"}, "encoding": {"x": {"field": "tx", "type": "quantitative"}, "y": {"field": "ty", "type": "quantitative"}, "text": {"field": "t"}}}
]
}
